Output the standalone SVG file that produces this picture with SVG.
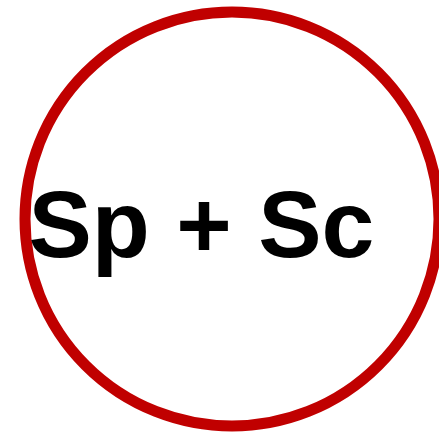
<svg xmlns="http://www.w3.org/2000/svg" width="439" height="433" viewBox="0 0 439 433">
<style>
.ring{fill:none;stroke:#c00000;stroke-width:11}
.lbl{font-family:"Liberation Sans",Arial,sans-serif;font-weight:bold;font-size:95px;fill:#000}
</style>
<rect width="439" height="433" fill="#fff"/>
<g id="node-circle">
<circle class="ring" cx="232" cy="219" r="207"/>
<text class="lbl" x="28.5" y="257">Sp + Sc</text>
</g>
</svg>
